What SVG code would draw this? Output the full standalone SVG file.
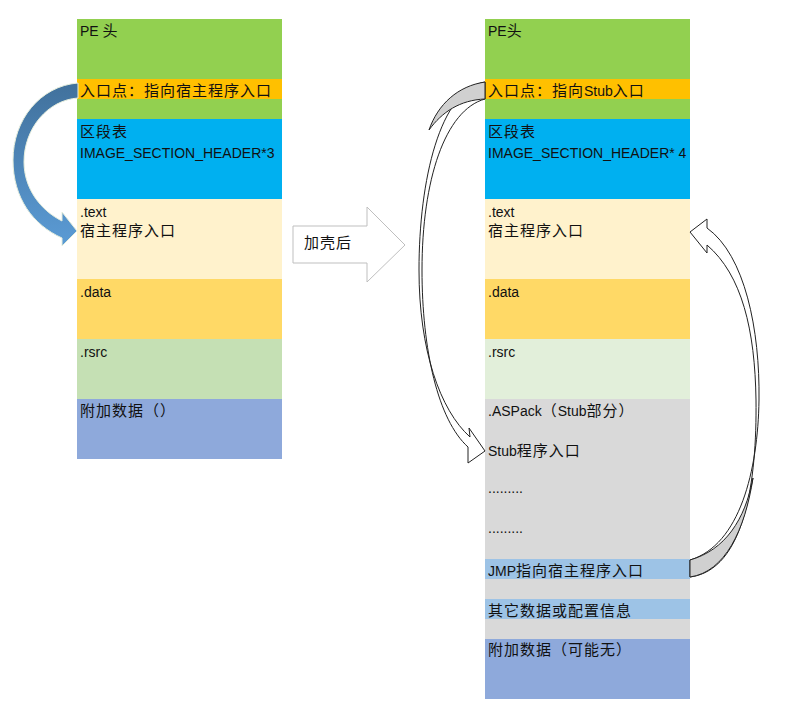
<svg xmlns="http://www.w3.org/2000/svg" width="786" height="712" viewBox="0 0 786 712">
<defs>
<linearGradient id="blueArrow" x1="0" y1="0" x2="0" y2="1">
<stop offset="0" stop-color="#41719C"/>
<stop offset="1" stop-color="#5B9BD5"/>
</linearGradient>
<style>
text{font-family:"Liberation Sans","Noto Sans CJK SC",sans-serif;font-size:14px;fill:#111}
.c{font-family:"Noto Sans CJK SC",sans-serif;font-size:15px;letter-spacing:1px}
.outl{fill:#fff;stroke:#222;stroke-width:1}
.twist{fill:#D0D0D0;stroke:#222;stroke-width:1}
</style>
</defs>
<rect width="786" height="712" fill="#fff"/>

<g id="left-pe">
<rect x="77" y="19" width="205" height="60" fill="#92D050"/>
<text x="80" y="36">PE <tspan class="c">头</tspan></text>
</g>
<g id="left-entry">
<rect x="77" y="79" width="205" height="20" fill="#FFC000"/>
<text x="80" y="96" class="c">入口点：指向宿主程序入口</text>
</g>
<g id="left-pe-rest"><rect x="77" y="99" width="205" height="20" fill="#92D050"/></g>
<g id="left-sections">
<rect x="77" y="119" width="205" height="80" fill="#00B0F0"/>
<text x="80" y="137" class="c">区段表</text>
<text x="80" y="158">IMAGE_SECTION_HEADER*3</text>
</g>
<g id="left-text">
<rect x="77" y="199" width="205" height="80" fill="#FFF2CC"/>
<text x="80" y="217">.text</text>
<text x="80" y="236" class="c">宿主程序入口</text>
</g>
<g id="left-data">
<rect x="77" y="279" width="205" height="60" fill="#FFD966"/>
<text x="80" y="297">.data</text>
</g>
<g id="left-rsrc">
<rect x="77" y="339" width="205" height="60" fill="#C5E0B4"/>
<text x="80" y="357">.rsrc</text>
</g>
<g id="left-extra">
<rect x="77" y="399" width="205" height="60" fill="#8EA9DB"/>
<text x="80" y="416" class="c">附加数据（）</text>
</g>

<g id="pack-arrow">
<path d="M293,226 L367,226 L367,207 L405,245 L367,282 L367,263 L293,263 Z" fill="#fff" stroke="#BFBFBF" stroke-width="1"/>
<text x="304" y="248" class="c">加壳后</text>
</g>

<g id="right-pe">
<rect x="485" y="19" width="205" height="60" fill="#92D050"/>
<text x="488" y="36">PE<tspan class="c">头</tspan></text>
</g>
<g id="right-entry">
<rect x="485" y="79" width="205" height="20" fill="#FFC000"/>
<text x="488" y="96"><tspan class="c">入口点：指向</tspan>Stub<tspan class="c">入口</tspan></text>
</g>
<g id="right-pe-rest"><rect x="485" y="99" width="205" height="20" fill="#92D050"/></g>
<g id="right-sections">
<rect x="485" y="119" width="205" height="80" fill="#00B0F0"/>
<text x="488" y="137" class="c">区段表</text>
<text x="488" y="158">IMAGE_SECTION_HEADER* 4</text>
</g>
<g id="right-text">
<rect x="485" y="199" width="205" height="80" fill="#FFF2CC"/>
<text x="488" y="217">.text</text>
<text x="488" y="236" class="c">宿主程序入口</text>
</g>
<g id="right-data">
<rect x="485" y="279" width="205" height="60" fill="#FFD966"/>
<text x="488" y="297">.data</text>
</g>
<g id="right-rsrc">
<rect x="485" y="339" width="205" height="60" fill="#E2EFDA"/>
<text x="488" y="357">.rsrc</text>
</g>
<g id="right-aspack">
<rect x="485" y="399" width="205" height="240" fill="#D9D9D9"/>
<text x="488" y="416">.ASPack<tspan class="c">（</tspan>Stub<tspan class="c">部分）</tspan></text>
<text x="488" y="456">Stub<tspan class="c">程序入口</tspan></text>
<text x="488" y="493">.........</text>
<text x="488" y="533">.........</text>
</g>
<g id="right-jmp">
<rect x="485" y="559" width="205" height="20" fill="#9DC3E6"/>
<text x="488" y="576">JMP<tspan class="c">指向宿主程序入口</tspan></text>
</g>
<g id="right-other">
<rect x="485" y="599" width="205" height="20" fill="#9DC3E6"/>
<text x="488" y="616" class="c">其它数据或配置信息</text>
</g>
<g id="right-extra">
<rect x="485" y="639" width="205" height="60" fill="#8EA9DB"/>
<text x="488" y="655" class="c">附加数据（可能无）</text>
</g>

<g id="connectors">
<path d="M78,83 C40,86 13,120 13,160 C13,198 33,225 62,238 L62,246 L77,231 L62,212 L62,221 C40,210 24,188 24,162 C24,128 48,100 78,98 Z" fill="url(#blueArrow)" stroke="#E6EEDD" stroke-width="1"/>

<path class="outl" d="M485,82 C440,90 419,180 419,270 C419,350 440,410 470,437 L469,428 L485,451 L468,463 L468,447 C438,420 422,350 422,270 C422,180 445,110 485,99 Z"/>
<path class="twist" d="M485,82 C458,86 438,104 429,130 C442,112 460,100 485,99 Z"/>

<path class="outl" d="M690,560 C740,545 758,470 759,400 C760,330 745,255 707,228 L707,219 L690,232 L707,253 L707,245 C742,275 755,330 756,400 C757,480 745,570 690,577 Z"/>
<path class="twist" d="M690,560 C725,550 745,520 753,478 C745,530 725,572 690,577 Z"/>
</g>
</svg>
